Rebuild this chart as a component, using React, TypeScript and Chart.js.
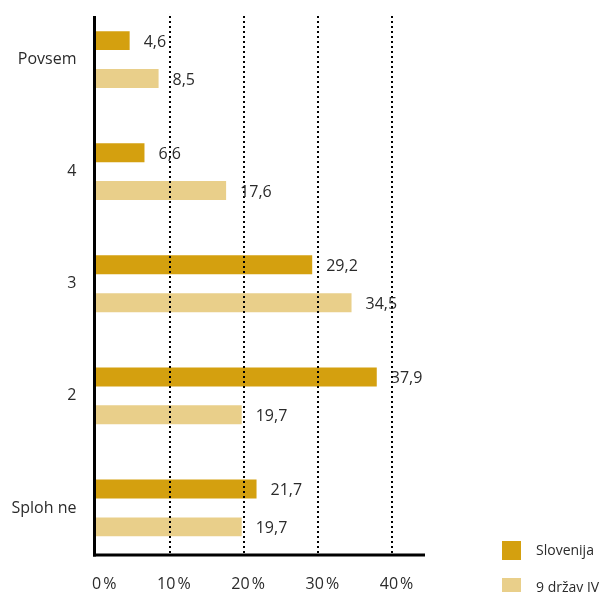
import React, { useEffect, useRef } from 'react';
import { Chart, registerables } from 'chart.js';

Chart.register(...registerables);

const categories = ['Povsem', '4', '3', '2', 'Sploh ne'];
const slovenija = [4.6, 6.6, 29.2, 37.9, 21.7];
const drzavJV = [8.5, 17.6, 34.5, 19.7, 19.7];
const seriesNames = ['Slovenija', '9 držav JV'];
const seriesColors = ['#D4A00F', '#E9CF8A'];
const xTicks = [0, 10, 20, 30, 40];
const xMax = 44.4;

const FONT = '"Open Sans", sans-serif';
const TEXT = '#2b2b2b';

const fmt = (v: number) => v.toFixed(1).replace('.', ',');

const decorPlugin = {
  id: 'decor',
  afterDatasetsDraw(chart: any) {
    const { ctx, chartArea, scales } = chart;
    const x = scales.x;
    const left = x.getPixelForValue(0) - 1;
    const top = chartArea.top + 12.5;
    const bottom = chartArea.bottom - 9;
    ctx.save();
    // dotted gridlines
    ctx.setLineDash([2, 3]);
    ctx.lineWidth = 2;
    ctx.strokeStyle = '#000';
    xTicks.forEach((v) => {
      if (v === 0) return;
      const px = Math.round(x.getPixelForValue(v));
      ctx.beginPath();
      ctx.moveTo(px, top);
      ctx.lineTo(px, bottom);
      ctx.stroke();
    });
    // axis lines
    ctx.setLineDash([]);
    ctx.lineWidth = 3;
    ctx.beginPath();
    ctx.moveTo(left, top);
    ctx.lineTo(left, bottom + 1.5);
    ctx.stroke();
    ctx.beginPath();
    ctx.moveTo(left - 1.5, bottom);
    ctx.lineTo(chartArea.right, bottom);
    ctx.stroke();
    // value labels
    ctx.font = '16px ' + FONT;
    ctx.fillStyle = TEXT;
    ctx.textAlign = 'left';
    ctx.textBaseline = 'middle';
    chart.data.datasets.forEach((ds: any, di: number) => {
      const meta = chart.getDatasetMeta(di);
      meta.data.forEach((bar: any, i: number) => {
        ctx.fillText(fmt(ds.data[i]), bar.x + 14, bar.y + 1.5);
      });
    });
    ctx.restore();
  },
  afterDraw(chart: any) {
    const { ctx } = chart;
    ctx.save();
    ctx.font = '14px ' + FONT;
    ctx.textAlign = 'left';
    ctx.textBaseline = 'middle';
    chart.data.datasets.forEach((ds: any, di: number) => {
      const y = 541 + di * 37;
      ctx.fillStyle = ds.backgroundColor;
      ctx.fillRect(502, y, 19, 19);
      ctx.fillStyle = TEXT;
      ctx.fillText(ds.label, 536, y + 10);
    });
    ctx.restore();
  },
};

export default function App() {
  const ref = useRef<HTMLCanvasElement>(null);
  useEffect(() => {
    if (!ref.current) return;
    Chart.defaults.font.family = FONT;
    const chart = new Chart(ref.current, {
      type: 'bar',
      data: {
        labels: categories,
        datasets: [
          {
            label: seriesNames[0],
            data: slovenija,
            backgroundColor: seriesColors[0],
            categoryPercentage: 0.676,
            barPercentage: 0.5,
          },
          {
            label: seriesNames[1],
            data: drzavJV,
            backgroundColor: seriesColors[1],
            categoryPercentage: 0.676,
            barPercentage: 0.5,
          },
        ],
      },
      options: {
        indexAxis: 'y',
        animation: false,
        responsive: true,
        maintainAspectRatio: false,
        layout: { padding: { top: 3.5, right: 181, left: 0, bottom: 0 } },
        plugins: { legend: { display: false }, tooltip: { enabled: false } },
        scales: {
          x: {
            min: 0,
            max: xMax,
            grid: { display: false, drawTicks: false },
            border: { display: false },
            afterBuildTicks: (scale: any) => {
              scale.ticks = xTicks.map((v) => ({ value: v }));
            },
            afterFit: (scale: any) => {
              scale.height = 28;
              scale.paddingLeft = 0;
              scale.paddingRight = 0;
              scale.paddingTop = 0;
              scale.paddingBottom = 0;
            },
            ticks: {
              align: 'end',
              labelOffset: 21,
              padding: 11,
              color: TEXT,
              font: { size: 16, family: FONT },
              callback: (v: any) => v + '\u202F%',
            },
          },
          y: {
            grid: { display: false, drawTicks: false },
            border: { display: false },
            afterFit: (scale: any) => {
              scale.width = 95.5;
              scale.paddingLeft = 0;
              scale.paddingRight = 0;
              scale.paddingTop = 0;
              scale.paddingBottom = 0;
            },
            ticks: {
              padding: 19,
              color: TEXT,
              font: { size: 16, family: FONT },
            },
          },
        },
      },
      plugins: [decorPlugin],
    } as any);
    return () => chart.destroy();
  }, []);
  return (
    <div style={{ position: 'absolute', left: 0, top: 0, width: 606, height: 592 }}>
      <canvas ref={ref} />
    </div>
  );
}
